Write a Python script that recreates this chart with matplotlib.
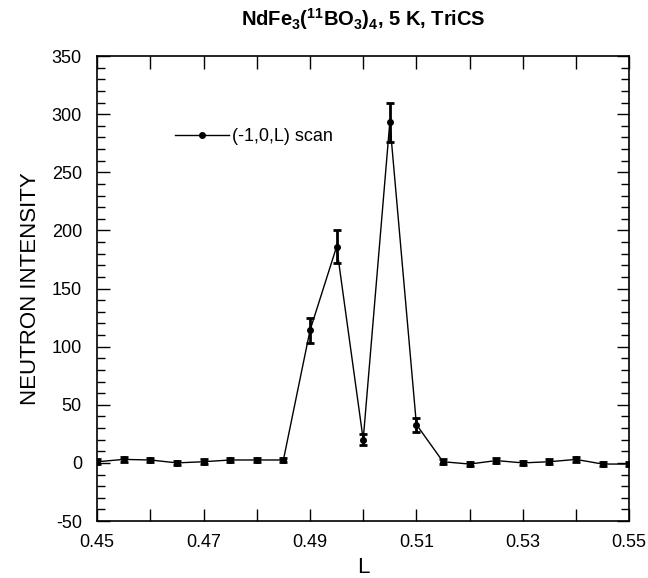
import numpy as np
import matplotlib.pyplot as plt
from matplotlib.ticker import MultipleLocator
from matplotlib.lines import Line2D

plt.rcParams['font.family'] = ['Liberation Sans', 'DejaVu Sans']
plt.rcParams['mathtext.fontset'] = 'custom'
plt.rcParams['mathtext.rm'] = 'Liberation Sans'
plt.rcParams['mathtext.bf'] = 'Liberation Sans:bold'
plt.rcParams['axes.unicode_minus'] = False

# (-1,0,L) scan
L = [0.450, 0.455, 0.460, 0.465, 0.470, 0.475, 0.480, 0.485, 0.490, 0.495,
     0.500, 0.505, 0.510, 0.515, 0.520, 0.525, 0.530, 0.535, 0.540, 0.545, 0.550]
intensity = [1, 3, 2.5, 0, 1, 2.5, 2.5, 2.5, 114, 186,
             20, 293, 33, 1, -1, 2, 0, 1, 3, -1, -1]
errors = [2, 2, 2, 2, 2, 2, 2, 2, 11, 14,
          5, 17, 6, 2, 2, 2, 2, 2, 2, 2, 2]

fig = plt.figure(figsize=(6.48, 5.78), dpi=100)
ax = fig.add_axes([0.150, 0.0986, 0.821, 0.8044])

ax.errorbar(L, intensity, yerr=errors, color='black', lw=1.0,
            marker='o', ms=4, elinewidth=2, capsize=2.7, capthick=2)

ax.set_xlim(0.45, 0.55)
ax.set_ylim(-50, 350)
ax.set_xticks([0.45, 0.47, 0.49, 0.51, 0.53, 0.55])
ax.set_xticklabels(['0.45', '0.47', '0.49', '0.51', '0.53', '0.55'])
ax.xaxis.set_minor_locator(MultipleLocator(0.01))
ax.yaxis.set_major_locator(MultipleLocator(50))
ax.yaxis.set_minor_locator(MultipleLocator(10))
ax.tick_params(which='both', direction='in', top=True, right=True,
               labelsize=13, width=1)
ax.tick_params(which='major', length=9)
ax.tick_params(axis='x', which='major', pad=9)
ax.tick_params(axis='y', which='major', pad=11)
ax.tick_params(axis='x', which='minor', length=9)
ax.tick_params(axis='y', which='minor', length=6)
for s in ax.spines.values():
    s.set_linewidth(1.2)

ax.set_xlabel('L', fontsize=16, labelpad=5)
ax.set_ylabel('NEUTRON INTENSITY', fontsize=16, labelpad=8)
ax.set_title(r'$\mathbf{NdFe_3(^{11}BO_3)_4}$, 5 K, TriCS',
             fontsize=14.5, fontweight='bold', pad=22)

handle = Line2D([], [], color='black', lw=1.0, marker='o', ms=4)
ax.legend([handle], ['(-1,0,L) scan'], loc='upper left',
          bbox_to_anchor=(0.115, 0.88), frameon=False,
          fontsize=13, handlelength=3.0, handletextpad=0.2)

fig.savefig('out.png', dpi=100)
